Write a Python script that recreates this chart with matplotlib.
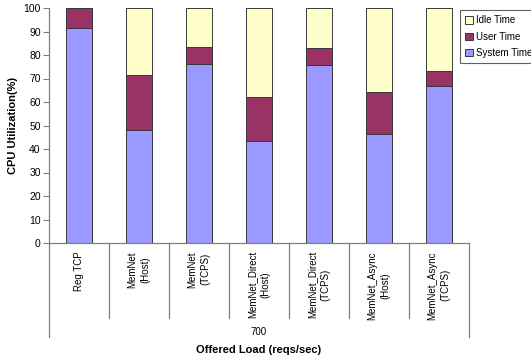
import matplotlib
matplotlib.use("Agg")
import matplotlib.pyplot as plt
from matplotlib.patches import Patch
import numpy as np

plt.rcParams['font.family'] = ['Liberation Sans', 'DejaVu Sans']

categories = ["Reg TCP", "MemNet\n(Host)", "MemNet\n(TCPS)", "MemNet_Direct\n(Host)",
              "MemNet_Direct\n(TCPS)", "MemNet_Async\n(Host)", "MemNet_Async\n(TCPS)"]
group_label = "700"
system_time = [91.5, 48.2, 76.0, 43.4, 75.6, 46.3, 66.8]
user_time = [8.5, 23.5, 7.4, 18.6, 7.3, 18.1, 6.4]
idle_time = [0.0, 28.3, 16.6, 38.0, 17.1, 35.6, 26.8]
yticks = list(range(0, 101, 10))

W, H = 531, 362
fig = plt.figure(figsize=(W / 100, H / 100), dpi=100)
x0, x1, y0, y1 = 49, 469, 243, 8
ax = fig.add_axes([x0 / W, 1 - y0 / H, (x1 - x0) / W, (y0 - y1) / H])

x = np.arange(len(categories))
bw = 0.42
edge = dict(edgecolor='#383838', linewidth=0.7)
ax.bar(x, system_time, bw, color='#9999FF', **edge)
ax.bar(x, user_time, bw, bottom=system_time, color='#993366', **edge)
bottoms = [s + u for s, u in zip(system_time, user_time)]
ax.bar(x, idle_time, bw, bottom=bottoms, color='#FFFFCC', **edge)

ax.set_xlim(-0.5, len(categories) - 0.5)
ax.set_ylim(0, 100)
ax.set_yticks(yticks)
ax.tick_params(axis='y', labelsize=7.5, length=4, width=0.8, color='#808080', pad=2)
ax.set_xticks([])
for s in ['top', 'right']:
    ax.spines[s].set_visible(False)
for s in ['left', 'bottom']:
    ax.spines[s].set_color('#808080')
    ax.spines[s].set_linewidth(0.9)

fig.text(13 / W, 1 - ((y0 + y1) / 2) / H, "CPU Utilization(%)", rotation=90,
         ha='center', va='center', fontsize=8, fontweight='bold')

# category separators and labels below the axis
trans = ax.get_xaxis_transform()
n = len(categories)
for k in range(n + 1):
    depth = (337 - y0) if k in (0, n) else (318 - y0)
    ax.plot([k - 0.5, k - 0.5], [0, -depth / (y0 - y1)], transform=trans,
            color='#808080', lw=0.9, clip_on=False)
for i, lab in enumerate(categories):
    ax.text(i, -(251 - y0) / (y0 - y1), lab, transform=trans, rotation=90,
            ha='center', va='top', fontsize=7, multialignment='center',
            linespacing=1.35)
ax.text((n - 1) / 2, -(332 - y0) / (y0 - y1), group_label, transform=trans,
        ha='center', va='center', fontsize=7)
fig.text(((x0 + x1) / 2) / W, 1 - 350 / H, "Offered Load (reqs/sec)",
         ha='center', va='center', fontsize=8, fontweight='bold')

handles = [Patch(facecolor='#FFFFCC', edgecolor='#383838', lw=0.7),
           Patch(facecolor='#993366', edgecolor='#383838', lw=0.7),
           Patch(facecolor='#9999FF', edgecolor='#383838', lw=0.7)]
leg = fig.legend(handles, ["Idle Time", "User Time", "System Time"],
                 loc='upper left', bbox_to_anchor=(460 / W, 1 - 10 / H),
                 fontsize=7, frameon=True, fancybox=False, handlelength=0.8,
                 handleheight=0.8, handletextpad=0.3, borderpad=0.55,
                 labelspacing=0.65, borderaxespad=0)
leg.get_frame().set_edgecolor('#383838')
leg.get_frame().set_linewidth(0.8)

fig.savefig("out.png", dpi=100)
